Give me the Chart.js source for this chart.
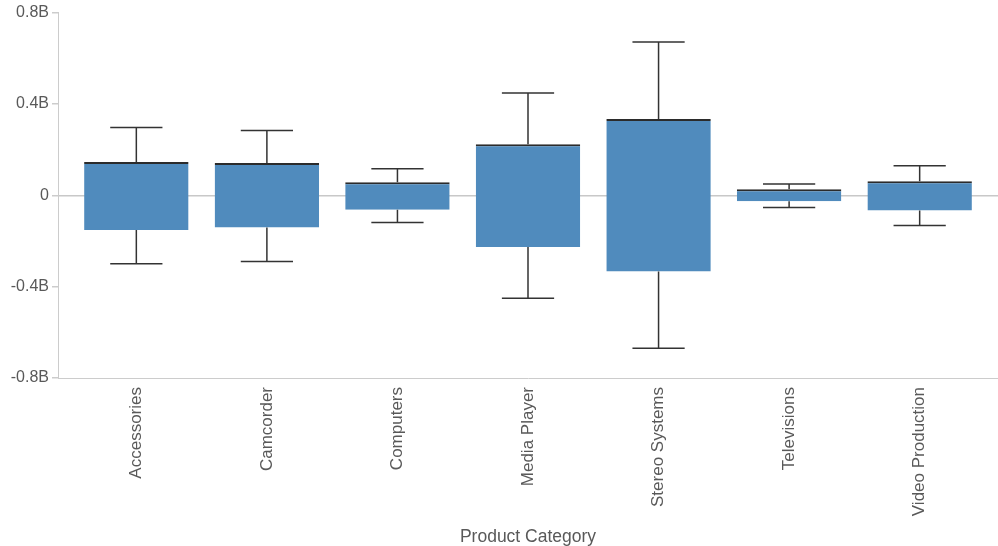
<!DOCTYPE html>
<html>
<head>
<meta charset="utf-8">
<script src="https://cdn.jsdelivr.net/npm/chart.js@4"></script>
<style>
  html, body { margin: 0; padding: 0; background: #ffffff; }
  #wrap { width: 998px; height: 546px; position: relative; }
</style>
</head>
<body>
<div id="wrap"><canvas id="c"></canvas></div>
<script>
// Data (values in billions)
const categories = ["Accessories", "Camcorder", "Computers", "Media Player", "Stereo Systems", "Televisions", "Video Production"];
const boxLow     = [-0.152, -0.141, -0.063, -0.226, -0.334, -0.026, -0.067];
const boxHigh    = [ 0.146,  0.141,  0.057,  0.224,  0.334,  0.026,  0.062];
const whiskerLow = [-0.300, -0.290, -0.119, -0.451, -0.670, -0.053, -0.132];
const whiskerHigh= [ 0.297,  0.284,  0.116,  0.448,  0.671,  0.050,  0.129];
const yTicks     = [-0.8, -0.4, 0, 0.4, 0.8];
const yTickLabels= ["-0.8B", "-0.4B", "0", "0.4B", "0.8B"];

const FONT = "'Liberation Sans', Arial, sans-serif";
const TEXT = '#595959';
const AXIS = '#cccccc';

const whiskerPlugin = {
  id: 'whiskers',
  afterDatasetsDraw(chart) {
    const ctx = chart.ctx;
    const xs = chart.scales.x, ys = chart.scales.y;
    const meta = chart.getDatasetMeta(0);
    ctx.save();
    ctx.strokeStyle = '#333333';
    ctx.lineWidth = 1.5;
    categories.forEach((c, i) => {
      const bar = meta.data[i];
      const half = bar.width / 4;
      const x = xs.getPixelForValue(i);
      const segs = [[boxHigh[i], whiskerHigh[i]], [boxLow[i], whiskerLow[i]]];
      segs.forEach(([from, to]) => {
        const y0 = ys.getPixelForValue(from), y1 = ys.getPixelForValue(to);
        ctx.beginPath();
        ctx.moveTo(x, y0); ctx.lineTo(x, y1);
        ctx.moveTo(x - half, y1); ctx.lineTo(x + half, y1);
        ctx.stroke();
      });
    });
    ctx.restore();
  }
};

new Chart(document.getElementById('c'), {
  type: 'bar',
  data: {
    datasets: [{
      data: categories.map((c, i) => ({ x: i, y: [boxLow[i], boxHigh[i]] })),
      backgroundColor: '#508bbd',
      borderColor: '#2b2b2b',
      borderWidth: { top: 2, bottom: 0, left: 0, right: 0 },
      borderSkipped: false,
      categoryPercentage: 0.8,
      barPercentage: 1.0
    }]
  },
  options: {
    responsive: true,
    maintainAspectRatio: false,
    animation: false,
    layout: { padding: { top: 7, right: 0, bottom: 0, left: 0 } },
    plugins: { legend: { display: false }, tooltip: { enabled: false } },
    scales: {
      x: {
        type: 'linear',
        offset: false,
        min: -0.6,
        max: 6.6,
        afterBuildTicks: (scale) => { scale.ticks = categories.map((c, i) => ({ value: i })); },
        afterFit: (scale) => { scale.height = 168; },
        grid: { display: true, drawOnChartArea: false, drawTicks: false, color: 'transparent' },
        border: { display: true, color: AXIS, width: 1 },
        ticks: {
          autoSkip: false,
          maxRotation: 90,
          minRotation: 90,
          padding: 9,
          color: TEXT,
          font: { family: FONT, size: 17 },
          callback: (v) => categories[v] ?? ''
        },
        title: {
          display: true,
          text: 'Product Category',
          color: TEXT,
          font: { family: FONT, size: 17.5 },
          padding: { top: 4, bottom: -2 }
        }
      },
      y: {
        min: -0.8,
        max: 0.8,
        afterBuildTicks: (scale) => { scale.ticks = yTicks.map(v => ({ value: v })); },
        afterFit: (scale) => { scale.width = 58; },
        grid: {
          drawOnChartArea: true,
          drawTicks: true,
          tickLength: 6,
          color: (ctx) => (ctx.tick && Math.abs(ctx.tick.value) < 1e-9) ? '#c8c8c8' : 'transparent',
          tickColor: AXIS,
          lineWidth: 1.5
        },
        border: { display: true, color: AXIS, width: 1 },
        ticks: {
          padding: 3,
          color: TEXT,
          font: { family: FONT, size: 16 },
          callback: (v) => { const k = yTicks.findIndex(t => Math.abs(t - v) < 1e-9); return k >= 0 ? yTickLabels[k] : ''; }
        }
      }
    }
  },
  plugins: [whiskerPlugin]
});
</script>
</body>
</html>
